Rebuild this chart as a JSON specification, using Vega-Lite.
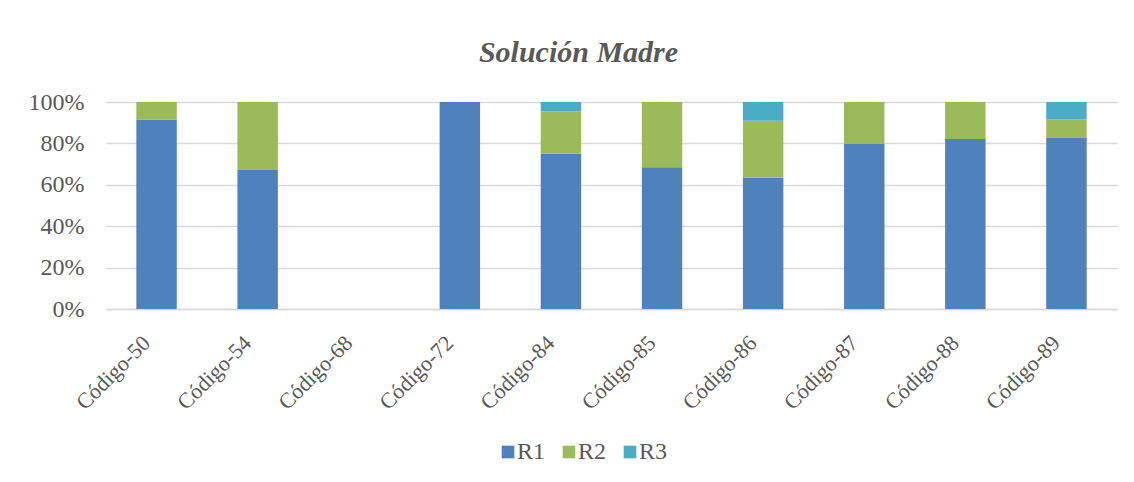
{
  "$schema": "https://vega.github.io/schema/vega-lite/v6.json",
  "width": 1011,
  "height": 207,
  "autosize": {"type": "none"},
  "padding": {"left": 106, "top": 102, "right": 17, "bottom": 173},
  "background": "white",
  "title": {
    "text": "Solución Madre",
    "font": "Liberation Serif",
    "fontSize": 30,
    "fontStyle": "italic",
    "fontWeight": "bold",
    "color": "#595959",
    "anchor": "middle",
    "dx": -33,
    "offset": 22
  },
  "data": {
    "values": [
      {"codigo": "Código-50", "serie": "R1", "valor": 0.916},
      {"codigo": "Código-50", "serie": "R2", "valor": 0.084},
      {"codigo": "Código-54", "serie": "R1", "valor": 0.671},
      {"codigo": "Código-54", "serie": "R2", "valor": 0.329},
      {"codigo": "Código-72", "serie": "R1", "valor": 1.0},
      {"codigo": "Código-84", "serie": "R1", "valor": 0.75},
      {"codigo": "Código-84", "serie": "R2", "valor": 0.204},
      {"codigo": "Código-84", "serie": "R3", "valor": 0.046},
      {"codigo": "Código-85", "serie": "R1", "valor": 0.685},
      {"codigo": "Código-85", "serie": "R2", "valor": 0.315},
      {"codigo": "Código-86", "serie": "R1", "valor": 0.634},
      {"codigo": "Código-86", "serie": "R2", "valor": 0.276},
      {"codigo": "Código-86", "serie": "R3", "valor": 0.09},
      {"codigo": "Código-87", "serie": "R1", "valor": 0.797},
      {"codigo": "Código-87", "serie": "R2", "valor": 0.203},
      {"codigo": "Código-88", "serie": "R1", "valor": 0.821},
      {"codigo": "Código-88", "serie": "R2", "valor": 0.179},
      {"codigo": "Código-89", "serie": "R1", "valor": 0.826},
      {"codigo": "Código-89", "serie": "R2", "valor": 0.089},
      {"codigo": "Código-89", "serie": "R3", "valor": 0.085}
    ]
  },
  "mark": {"type": "bar"},
  "encoding": {
    "x": {
      "field": "codigo",
      "type": "nominal",
      "sort": null,
      "scale": {
        "domain": ["Código-50", "Código-54", "Código-68", "Código-72", "Código-84", "Código-85", "Código-86", "Código-87", "Código-88", "Código-89"],
        "paddingInner": 0.6,
        "paddingOuter": 0.3
      },
      "axis": {
        "title": null,
        "labelAngle": -45,
        "labelAlign": "right",
        "labelBaseline": "middle",
        "labelFont": "Liberation Serif",
        "labelFontSize": 22,
        "labelColor": "#595959",
        "labelPadding": 30,
        "labelOffset": -10,
        "ticks": false,
        "domainColor": "#d9d9d9",
        "domainWidth": 1.5
      }
    },
    "y": {
      "field": "valor",
      "type": "quantitative",
      "stack": "zero",
      "scale": {"domain": [0, 1]},
      "axis": {
        "title": null,
        "values": [0, 0.2, 0.4, 0.6, 0.8, 1],
        "format": ".0%",
        "labelFont": "Liberation Serif",
        "labelFontSize": 24,
        "labelColor": "#595959",
        "labelPadding": 22,
        "ticks": false,
        "domain": false,
        "gridColor": "#d9d9d9",
        "gridWidth": 1.5
      }
    },
    "color": {
      "field": "serie",
      "type": "nominal",
      "scale": {"domain": ["R1", "R2", "R3"], "range": ["#4f81bd", "#9bbb59", "#4bacc6"]},
      "legend": {
        "title": null,
        "orient": "none",
        "direction": "horizontal",
        "legendX": 390,
        "legendY": 338,
        "symbolType": "square",
        "symbolSize": 160,
        "symbolStrokeWidth": 0,
        "labelFont": "Liberation Serif",
        "labelFontSize": 24,
        "labelColor": "#595959",
        "labelOffset": -3,
        "columnPadding": 11
      }
    },
    "order": {"field": "serie", "sort": "ascending"}
  },
  "config": {
    "view": {"stroke": null}
  }
}
